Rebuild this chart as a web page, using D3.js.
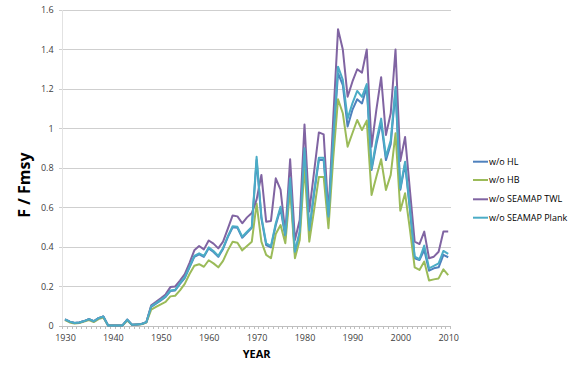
<!DOCTYPE html>
<html>
<head>
<meta charset="utf-8">
<script src="https://cdn.jsdelivr.net/npm/d3@7"></script>
<style>
  html, body { margin: 0; padding: 0; background: #fff; }
  svg { display: block; font-family: "Open Sans", "Liberation Sans", sans-serif; }
</style>
</head>
<body>
<svg id="chart" width="580" height="366"></svg>
<script>
// ---- data ----
const years = d3.range(1930, 2011);
const yTicks = [0, 0.2, 0.4, 0.6, 0.8, 1, 1.2, 1.4, 1.6];
const xTickLabels = [1930, 1940, 1950, 1960, 1970, 1980, 1990, 2000, 2010];
const seriesNames = ["w/o HL", "w/o HB", "w/o SEAMAP TWL", "w/o SEAMAP Plank"];

const woHL = [
  0.034, 0.022, 0.015, 0.018, 0.025, 0.035, 0.024, 0.040, 0.048, 0.003,
  0.003, 0.003, 0.003, 0.032, 0.006, 0.008, 0.010, 0.020,
  0.097, 0.113, 0.130, 0.147, 0.177, 0.180, 0.213, 0.243, 0.297, 0.350,
  0.363, 0.350, 0.393, 0.375, 0.350, 0.390, 0.450, 0.500, 0.497, 0.447,
  0.472, 0.497,
  0.840, 0.545, 0.410, 0.398, 0.510, 0.595, 0.450, 0.735, 0.368, 0.470,
  0.880, 0.476, 0.670, 0.840, 0.840, 0.545, 0.930,
  1.280, 1.220, 1.010, 1.094, 1.148, 1.127, 1.210, 0.790, 0.920, 1.030,
  0.840, 0.920, 1.190, 0.690, 0.820, 0.590, 0.343, 0.334, 0.385, 0.280,
  0.292, 0.297, 0.360, 0.348
];
const woHB = [
  0.030, 0.018, 0.012, 0.015, 0.022, 0.030, 0.020, 0.035, 0.043, 0.002,
  0.002, 0.002, 0.002, 0.028, 0.005, 0.007, 0.009, 0.018,
  0.083, 0.097, 0.110, 0.122, 0.150, 0.153, 0.180, 0.213, 0.263, 0.305,
  0.313, 0.300, 0.333, 0.317, 0.297, 0.330, 0.383, 0.427, 0.422, 0.383,
  0.405, 0.427,
  0.620, 0.427, 0.360, 0.343, 0.466, 0.511, 0.419, 0.697, 0.343, 0.435,
  0.807, 0.427, 0.587, 0.755, 0.755, 0.495, 0.850,
  1.148, 1.077, 0.908, 0.976, 1.043, 0.992, 1.040, 0.663, 0.756, 0.844,
  0.689, 0.765, 0.976, 0.584, 0.672, 0.490, 0.297, 0.284, 0.326, 0.230,
  0.236, 0.241, 0.287, 0.258
];
const woTWL = [
  0.034, 0.022, 0.015, 0.018, 0.025, 0.035, 0.024, 0.040, 0.048, 0.003,
  0.003, 0.003, 0.003, 0.032, 0.006, 0.008, 0.010, 0.020,
  0.105, 0.122, 0.140, 0.160, 0.197, 0.200, 0.230, 0.263, 0.320, 0.383,
  0.405, 0.388, 0.433, 0.417, 0.393, 0.427, 0.493, 0.560, 0.555, 0.520,
  0.550, 0.572,
  0.640, 0.765, 0.528, 0.532, 0.748, 0.690, 0.470, 0.844, 0.435, 0.537,
  1.020, 0.580, 0.780, 0.980, 0.970, 0.565, 1.050,
  1.502, 1.400, 1.161, 1.237, 1.300, 1.283, 1.400, 0.908, 1.094, 1.260,
  0.967, 1.077, 1.400, 0.835, 0.957, 0.690, 0.427, 0.415, 0.478, 0.343,
  0.351, 0.376, 0.478, 0.478
];
const woPlank = [
  0.034, 0.022, 0.015, 0.018, 0.025, 0.035, 0.024, 0.040, 0.048, 0.003,
  0.003, 0.003, 0.003, 0.032, 0.006, 0.008, 0.010, 0.020,
  0.100, 0.116, 0.133, 0.150, 0.180, 0.183, 0.217, 0.247, 0.300, 0.355,
  0.368, 0.355, 0.398, 0.380, 0.355, 0.395, 0.455, 0.505, 0.502, 0.452,
  0.477, 0.502,
  0.857, 0.554, 0.419, 0.405, 0.520, 0.604, 0.461, 0.748, 0.376, 0.478,
  0.900, 0.486, 0.680, 0.852, 0.852, 0.554, 0.950,
  1.313, 1.246, 1.050, 1.127, 1.190, 1.160, 1.225, 0.798, 0.940, 1.050,
  0.857, 0.940, 1.210, 0.697, 0.832, 0.600, 0.351, 0.338, 0.407, 0.292,
  0.304, 0.317, 0.380, 0.365
];
const seriesValues = [woHL, woHB, woTWL, woPlank];
const seriesColors = ["#4F81BD", "#9BBB59", "#8064A2", "#4BACC6"];

// ---- layout ----
const svg = d3.select("#chart");
const plotL = 62.6, plotR = 450.6, plotT = 10, plotB = 326;

const x = d3.scalePoint().domain(years).range([plotL, plotR]).padding(0.5);
const y = d3.scaleLinear().domain([0, 1.6]).range([plotB, plotT]);

// gridlines
svg.append("g").selectAll("line").data(yTicks).join("line")
  .attr("x1", plotL - 4).attr("x2", plotR)
  .attr("y1", d => y(d)).attr("y2", d => y(d))
  .attr("stroke", d => d === 0 ? "#bfbfbf" : "#cfcfcf").attr("stroke-width", 1)
  .attr("shape-rendering", "crispEdges");

// y axis line
svg.append("line").attr("x1", plotL).attr("x2", plotL).attr("y1", plotT).attr("y2", plotB)
  .attr("stroke", "#e2e2e2").attr("shape-rendering", "crispEdges");

// y labels
const yAxis = d3.axisLeft(y).tickValues(yTicks).tickSize(0).tickPadding(8)
  .tickFormat(d => d3.format("~g")(d));
const yg = svg.append("g").attr("transform", `translate(${plotL - 1},0)`).call(yAxis);
yg.select(".domain").remove();
yg.selectAll("text").attr("font-size", 9).attr("fill", "#404040")
  .attr("font-family", "'Open Sans', sans-serif");

// x axis: minor ticks at category boundaries
const step = x.step();
const tickPos = d3.range(0, years.length + 1).map(i => plotL + i * step);
svg.append("g").selectAll("line").data(tickPos).join("line")
  .attr("x1", d => d).attr("x2", d => d)
  .attr("y1", plotB).attr("y2", plotB + 3)
  .attr("stroke", "#bfbfbf").attr("shape-rendering", "crispEdges");

const xAxis = d3.axisBottom(x).tickValues(xTickLabels).tickSize(0).tickPadding(9);
const xg = svg.append("g").attr("transform", `translate(0,${plotB})`).call(xAxis);
xg.select(".domain").remove();
xg.selectAll("text").attr("font-size", 9).attr("fill", "#404040")
  .attr("font-family", "'Open Sans', sans-serif");

// lines
const line = d3.line().x((d, i) => x(years[i])).y(d => y(d));
svg.append("g").selectAll("path").data(seriesValues).join("path")
  .attr("d", d => line(d))
  .attr("fill", "none")
  .attr("stroke", (d, i) => seriesColors[i])
  .attr("stroke-width", 2)
  .attr("stroke-linejoin", "round");

// axis titles
svg.append("text").attr("x", (plotL + plotR) / 2).attr("y", 358)
  .attr("text-anchor", "middle").attr("font-size", 11).attr("font-weight", "bold")
  .attr("fill", "#000").text("YEAR");
svg.append("text").attr("transform", "translate(30,185) rotate(-90)")
  .attr("text-anchor", "middle").attr("font-size", 16).attr("font-weight", "bold")
  .attr("fill", "#000").text("F / Fmsy");

// legend
const lg = svg.append("g");
const ly = [161.7, 180, 199.3, 217.7];
seriesNames.forEach((n, i) => {
  lg.append("line").attr("x1", 473).attr("x2", 488).attr("y1", ly[i]).attr("y2", ly[i])
    .attr("stroke", seriesColors[i]).attr("stroke-width", 2);
  lg.append("text").attr("x", 489).attr("y", ly[i]).attr("dy", "0.35em")
    .attr("font-size", 9).attr("fill", "#000").text(n);
});
</script>
</body>
</html>
